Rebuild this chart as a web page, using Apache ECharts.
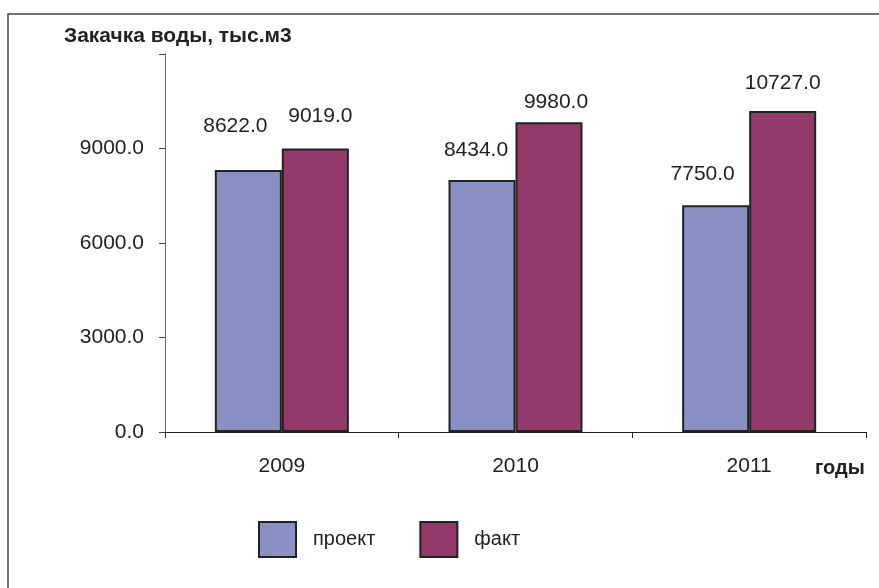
<!DOCTYPE html>
<html>
<head>
<meta charset="utf-8">
<script src="https://cdn.jsdelivr.net/npm/echarts@6/dist/echarts.min.js"></script>
<style>html,body{margin:0;padding:0;background:#fff}#c{width:879px;height:588px}</style>
</head>
<body>
<div id="c"></div>
<script>
// categories
const years = ['2009', '2010', '2011'];
// bar heights as drawn in the picture
const projectValues = [8320, 8000, 7200];
const factValues = [9000, 9830, 10190];
// data label texts as printed on the picture
const projectLabels = ['8622.0', '8434.0', '7750.0'];
const factLabels = ['9019.0', '9980.0', '10727.0'];
const seriesNames = ['проект', 'факт'];
const yTicks = [0, 3000, 6000, 9000];

// label offsets (styling only)
const projectOffsets = [[-13, -28], [-6, -14], [-13, -15]];
const factOffsets = [[5, -17], [7, -5], [0, -12]];

const FONT = "'Liberation Sans', Arial, sans-serif";
const chart = echarts.init(document.getElementById('c'), null, {renderer: 'canvas'});

function mk(values, offsets) {
  return values.map((v, i) => ({value: v, label: {offset: offsets[i]}}));
}

chart.setOption({
  backgroundColor: '#fff',
  animation: false,
  title: [
    {text: 'Закачка воды, тыс.м3', left: 59, top: 21,
     textStyle: {fontFamily: FONT, fontSize: 21, fontWeight: 'bold', color: '#222'}},
    {text: 'годы', left: 810, top: 453,
     textStyle: {fontFamily: FONT, fontSize: 20, fontWeight: 'bold', color: '#222'}}
  ],
  graphic: [{
    type: 'rect', shape: {x: 8, y: 14, width: 900, height: 600},
    style: {fill: 'none', stroke: '#444', lineWidth: 1.5}, silent: true
  }],
  legend: {
    left: 253, top: 516, itemWidth: 37, itemHeight: 35, itemGap: 44,
    icon: 'rect',
    data: seriesNames,
    textStyle: {fontFamily: FONT, fontSize: 20, color: '#222', padding: [0, 0, 0, 12]}
  },
  grid: {left: 165, right: 13, top: 54, bottom: 156, containLabel: false},
  xAxis: {
    type: 'category', data: years,
    axisLine: {lineStyle: {color: '#222', width: 1}},
    axisTick: {show: true, length: 6, lineStyle: {color: '#222'}},
    axisLabel: {fontFamily: FONT, fontSize: 21, color: '#222', margin: 24}
  },
  yAxis: {
    type: 'value', min: 0, max: 12000, interval: 3000,
    axisLine: {show: true, lineStyle: {color: '#666', width: 1}},
    axisTick: {show: true, length: 6, inside: false, lineStyle: {color: '#444'}},
    splitLine: {show: false},
    axisLabel: {
      fontFamily: FONT, fontSize: 21, color: '#222', margin: 21,
      formatter: v => yTicks.indexOf(v) >= 0 ? v.toFixed(1) : ''
    }
  },
  series: [
    {
      name: seriesNames[0], type: 'bar', barWidth: 67, barGap: '0%',
      data: mk(projectValues, projectOffsets),
      itemStyle: {color: '#8890C4', borderColor: '#222', borderWidth: 2},
      label: {show: true, position: 'top', fontFamily: FONT, fontSize: 21, color: '#222',
              formatter: p => projectLabels[p.dataIndex]}
    },
    {
      name: seriesNames[1], type: 'bar', barWidth: 67, barGap: '0%',
      data: mk(factValues, factOffsets),
      itemStyle: {color: '#943A6B', borderColor: '#222', borderWidth: 2},
      label: {show: true, position: 'top', fontFamily: FONT, fontSize: 21, color: '#222',
              formatter: p => factLabels[p.dataIndex]}
    }
  ]
});
</script>
</body>
</html>
